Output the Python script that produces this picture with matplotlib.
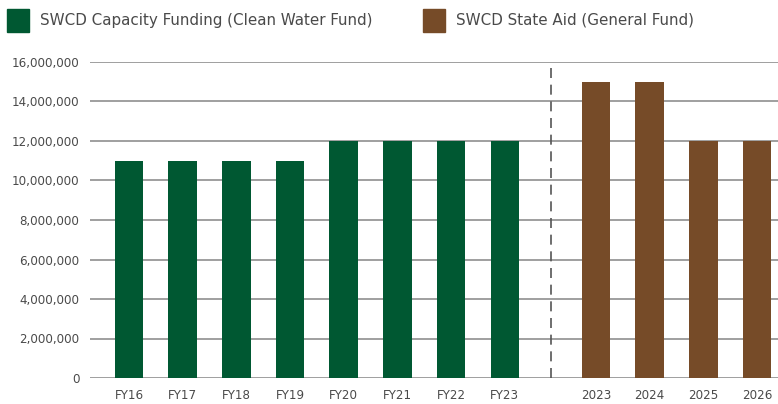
import matplotlib
matplotlib.use("Agg")
import matplotlib.pyplot as plt
from matplotlib.patches import Rectangle
from matplotlib.ticker import FuncFormatter

# data
cwf_labels = ["FY16", "FY17", "FY18", "FY19", "FY20", "FY21", "FY22", "FY23"]
cwf_values = [11000000, 11000000, 11000000, 11000000, 12000000, 12000000, 12000000, 12000000]
gf_labels = ["2023", "2024", "2025", "2026"]
gf_values = [15000000, 15000000, 12000000, 12000000]
y_ticks = [0, 2000000, 4000000, 6000000, 8000000, 10000000, 12000000, 14000000, 16000000]

GREEN = "#005832"
BROWN = "#764b28"
TEXT = "#4a4a4a"
GRID = "#858585"

plt.rcParams["font.family"] = ["DejaVu Sans"]

fig = plt.figure(figsize=(7.78, 4.04), dpi=100)
W, H = 778, 404
# axes spans pixel x 90..778, y 62..378
ax = fig.add_axes([90 / W, (H - 378) / H, (778 - 90) / W, (378 - 62) / H])

gap_start = len(cwf_labels) + 0.7
x_cwf = list(range(len(cwf_labels)))
x_gf = [gap_start + i for i in range(len(gf_labels))]

ax.bar(x_cwf, cwf_values, width=0.53, color=GREEN, zorder=3)
ax.bar(x_gf, gf_values, width=0.53, color=BROWN, zorder=3)

# divider between the two funding sources
ax.axvline(len(cwf_labels) - 0.13, color="#555555", linewidth=1.2,
           linestyle=(0, (6, 4)), zorder=2)

ax.set_xlim(-0.726, 12.09)
ax.set_ylim(0, 16000000)
ax.set_yticks(y_ticks)
ax.yaxis.set_major_formatter(FuncFormatter(lambda v, _: f"{int(v):,}"))
ax.set_xticks(x_cwf + x_gf)
ax.set_xticklabels(cwf_labels + gf_labels)

ax.grid(axis="y", color=GRID, linewidth=1.1, zorder=0)
ax.set_axisbelow(True)
for s in ax.spines.values():
    s.set_visible(False)
ax.tick_params(axis="both", length=0, colors=TEXT, labelsize=8.6)
ax.tick_params(axis="y", pad=7.5)
ax.tick_params(axis="x", pad=8)

# legend drawn at fixed figure pixels like the reference
legend_items = [
    (7, GREEN, "SWCD Capacity Funding (Clean Water Fund)"),
    (423, BROWN, "SWCD State Aid (General Fund)"),
]
for px, col, label in legend_items:
    fig.patches.append(Rectangle((px / W, (H - 32) / H), 22 / W, 23 / H,
                                 transform=fig.transFigure, color=col))
    fig.text((px + 33) / W, (H - 20) / H, label, color=TEXT, fontsize=10.9,
             va="center", ha="left")

fig.savefig("out.png", dpi=100)
